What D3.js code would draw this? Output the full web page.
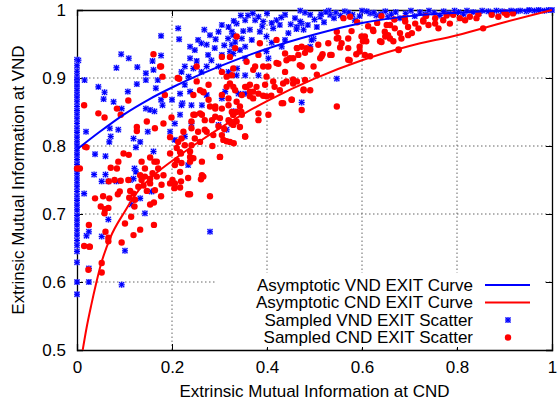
<!DOCTYPE html>
<html>
<head>
<meta charset="utf-8">
<script src="https://cdn.jsdelivr.net/npm/d3@7"></script>
<style>
  body { margin: 0; background: #fff; }
  svg { font-family: "Liberation Sans", Arial, sans-serif; }
  .grid line { stroke: #666; stroke-dasharray: 1.5,2.5; stroke-width: 1; }
  .axis path, .axis line { stroke: #000; }
  .axis text { font-size: 17px; fill: #000; }
</style>
</head>
<body>
<svg id="chart" width="558" height="405"></svg>
<script>
// asymptotic curves
const vndCurveX = [0, 0.05, 0.1, 0.15, 0.2, 0.3, 0.4, 0.5, 0.6, 0.7, 0.8, 0.9, 1]
const vndCurveY = [0.795, 0.822, 0.847, 0.868, 0.886, 0.917, 0.943, 0.964, 0.981, 0.991, 0.996, 0.999, 1.0]
const cndCurveX = [0.012, 0.02, 0.03, 0.04, 0.05, 0.07, 0.1, 0.13, 0.16, 0.2, 0.25, 0.3, 0.35, 0.4, 0.5, 0.6, 0.7, 0.8, 0.9, 1]
const cndCurveY = [0.5, 0.532, 0.566, 0.597, 0.625, 0.665, 0.703, 0.735, 0.756, 0.778, 0.803, 0.826, 0.847, 0.866, 0.899, 0.926, 0.947, 0.963, 0.982, 1.0]

// sampled VND scatter [x, y]
const vndScatter = [
  [0, 0.927], [0, 0.918], [0, 0.91], [0, 0.903], [0, 0.898], [0, 0.893], [0, 0.888], [0, 0.882], [0, 0.876],
  [0, 0.871], [0, 0.865], [0, 0.858], [0, 0.852], [0, 0.846], [0, 0.84], [0, 0.833], [0, 0.826], [0, 0.82],
  [0, 0.813], [0, 0.806], [0, 0.8], [0, 0.793], [0, 0.787], [0, 0.78], [0, 0.773], [0, 0.766], [0, 0.76],
  [0, 0.753], [0, 0.746], [0, 0.74], [0, 0.733], [0, 0.726], [0, 0.72], [0, 0.713], [0, 0.706], [0, 0.698],
  [0, 0.691], [0, 0.684], [0, 0.676], [0, 0.669], [0, 0.661], [0, 0.654], [0, 0.645], [0, 0.629], [0, 0.6],
  [0, 0.582], [0.003, 0.926],
  [0.177, 0.962], [0.213, 0.973], [0.215, 0.957], [0.093, 0.935], [0.109, 0.929], [0.083, 0.915], [0.127, 0.916],
  [0.177, 0.933], [0.159, 0.925], [0.161, 0.912], [0.145, 0.907], [0.145, 0.897], [0.126, 0.891], [0.17, 0.897],
  [0.166, 0.885], [0.045, 0.887], [0.058, 0.879], [0.056, 0.869], [0.077, 0.865], [0.107, 0.88], [0.094, 0.855],
  [0.145, 0.855], [0.154, 0.853], [0.163, 0.851], [0.18, 0.86], [0.177, 0.868], [0.2, 0.868], [0.217, 0.877],
  [0.222, 0.863], [0.217, 0.846], [0.206, 0.833], [0.196, 0.821], [0.206, 0.809], [0.019, 0.821], [0.069, 0.826],
  [0.087, 0.824], [0.071, 0.814], [0.068, 0.806], [0.119, 0.811], [0.133, 0.806], [0.124, 0.798], [0.149, 0.821],
  [0.161, 0.792], [0.038, 0.788], [0.06, 0.785], [0.121, 0.767], [0.124, 0.762], [0.036, 0.758], [0.06, 0.758],
  [0.234, 0.772], [0.227, 0.814], [0.016, 0.897], [0.241, 0.833],
  [0.305, 0.978], [0.319, 0.975], [0.298, 0.968], [0.326, 0.968], [0.28, 0.963], [0.255, 0.956], [0.262, 0.951],
  [0.273, 0.949], [0.238, 0.946], [0.248, 0.941], [0.29, 0.944], [0.276, 0.934], [0.283, 0.926], [0.305, 0.934],
  [0.322, 0.939], [0.326, 0.949], [0.238, 0.929], [0.227, 0.917], [0.245, 0.914], [0.22, 0.909], [0.262, 0.909],
  [0.273, 0.917], [0.298, 0.917], [0.319, 0.909], [0.227, 0.89], [0.238, 0.88], [0.22, 0.86], [0.241, 0.86],
  [0.263, 0.86], [0.273, 0.875], [0.312, 0.88], [0.305, 0.87], [0.298, 0.831], [0.326, 0.833], [0.315, 0.824],
  [0.336, 0.98], [0.354, 0.985], [0.375, 0.985], [0.392, 0.983], [0.42, 0.985], [0.438, 0.993], [0.459, 0.988],
  [0.473, 0.98], [0.491, 0.993], [0.512, 0.99], [0.533, 0.993], [0.564, 0.998], [0.617, 0.995], [0.649, 0.998],
  [0.364, 0.971], [0.385, 0.968], [0.399, 0.961], [0.413, 0.973], [0.427, 0.978], [0.463, 0.975], [0.477, 0.971],
  [0.329, 0.963], [0.347, 0.958], [0.333, 0.953], [0.354, 0.946], [0.368, 0.956], [0.343, 0.941], [0.329, 0.936],
  [0.354, 0.929], [0.403, 0.929], [0.399, 0.939], [0.438, 0.956], [0.431, 0.946], [0.491, 0.946], [0.498, 0.958],
  [0.337, 0.914], [0.354, 0.904], [0.336, 0.904], [0.382, 0.904], [0.547, 0.899], [0.34, 0.877], [0.354, 0.877],
  [0.473, 0.864], [0.33, 0.851], [0.36, 0.992], [0.4, 0.995], [0.45, 0.979], [0.48, 0.996], [0.52, 0.982],
  [0.545, 0.996], [0.58, 0.993], [0.6, 0.999], [0.63, 0.992], [0.585, 0.985], [0.505, 0.975], [0.445, 0.966],
  [0.41, 0.952], [0.37, 0.995], [0.53, 0.999], [0.47, 0.999],
  [0.47, 0.983], [0.462, 0.972], [0.486, 0.978], [0.5, 0.986], [0.514, 0.994], [0.494, 0.956], [0.43, 0.989],
  [0.41, 0.981], [0.39, 0.976], [0.35, 0.969], [0.318, 0.958], [0.31, 0.948], [0.555, 0.992], [0.572, 0.996],
  [0.595, 0.991], [0.61, 0.998], [0.625, 0.996], [0.64, 0.994], [0.541, 0.988], [0.524, 0.997], [0.382, 0.99],
  [0.345, 0.992], [0.33, 0.984], [0.268, 0.971], [0.292, 0.957], [0.252, 0.925], [0.235, 0.902],
  [0.655, 0.99], [0.662, 0.994], [0.671, 0.997], [0.68, 0.988], [0.692, 0.995], [0.703, 0.999], [0.711, 0.991],
  [0.722, 0.997], [0.733, 0.994], [0.741, 0.999], [0.752, 0.996], [0.764, 0.992], [0.772, 0.998], [0.783, 0.995],
  [0.795, 0.999], [0.803, 0.997], [0.814, 0.994], [0.821, 0.999], [0.834, 0.997], [0.846, 0.995], [0.853, 0.999],
  [0.866, 0.998], [0.874, 0.996], [0.883, 0.999], [0.895, 0.998], [0.903, 0.997], [0.914, 0.999], [0.925, 0.998],
  [0.933, 0.999], [0.946, 0.998], [0.952, 1.0], [0.963, 0.999], [0.972, 1.0], [0.984, 0.999], [0.993, 1.0], [1.0, 1.0],
  [0.015, 0.73], [0.052, 0.748], [0.066, 0.748], [0.083, 0.748], [0.112, 0.75], [0.119, 0.752], [0.133, 0.723],
  [0.115, 0.714], [0.143, 0.701], [0.066, 0.692], [0.02, 0.668], [0.025, 0.674], [0.052, 0.667], [0.101, 0.646],
  [0.28, 0.674], [0.025, 0.62], [0.025, 0.6], [0.094, 0.596], [0.157, 0.733]
]

// sampled CND scatter [x, y]
const cndScatter = [
  [0.161, 0.935], [0.177, 0.917], [0.18, 0.902], [0.185, 0.875], [0.212, 0.9], [0.015, 0.86], [0.045, 0.848],
  [0.058, 0.842], [0.084, 0.855], [0.108, 0.867], [0.092, 0.846], [0.126, 0.828], [0.126, 0.822], [0.147, 0.836],
  [0.164, 0.826], [0.182, 0.833], [0.199, 0.842], [0.02, 0.798], [0.098, 0.789], [0.109, 0.787], [0.087, 0.777],
  [0.071, 0.768], [0.084, 0.767], [0.136, 0.777], [0.143, 0.767], [0.154, 0.783], [0.163, 0.777], [0.171, 0.767],
  [0.159, 0.76], [0.182, 0.757], [0.133, 0.757], [0.006, 0.767], [0.21, 0.797], [0.213, 0.806], [0.219, 0.789],
  [0.227, 0.801], [0.238, 0.792], [0.241, 0.801], [0.248, 0.811], [0.255, 0.821], [0.21, 0.779], [0.22, 0.775],
  [0.238, 0.777], [0.217, 0.762], [0.245, 0.782], [0.263, 0.777], [0.266, 0.755], [0.301, 0.784], [0.252, 0.895],
  [0.259, 0.882], [0.277, 0.89], [0.266, 0.879], [0.245, 0.846], [0.263, 0.846], [0.28, 0.858], [0.291, 0.855],
  [0.305, 0.855], [0.319, 0.86], [0.284, 0.838], [0.301, 0.841], [0.326, 0.85], [0.319, 0.838], [0.273, 0.821],
  [0.287, 0.816], [0.308, 0.809], [0.322, 0.806], [0.305, 0.931], [0.322, 0.931], [0.305, 0.909], [0.315, 0.902],
  [0.322, 0.892], [0.315, 0.887], [0.305, 0.875], [0.319, 0.87],
  [0.067, 0.748], [0.079, 0.75], [0.092, 0.749], [0.108, 0.75], [0.136, 0.75], [0.143, 0.755], [0.154, 0.752],
  [0.168, 0.755], [0.038, 0.723], [0.055, 0.726], [0.068, 0.723], [0.086, 0.729], [0.09, 0.733], [0.05, 0.711],
  [0.059, 0.707], [0.066, 0.709], [0.058, 0.701], [0.112, 0.734], [0.119, 0.73], [0.11, 0.724], [0.122, 0.721],
  [0.121, 0.711], [0.114, 0.696], [0.129, 0.74], [0.14, 0.742], [0.154, 0.745], [0.147, 0.734], [0.164, 0.735],
  [0.177, 0.726], [0.154, 0.714], [0.162, 0.717], [0.162, 0.684], [0.133, 0.677], [0.119, 0.669], [0.101, 0.686],
  [0.06, 0.674], [0.066, 0.665], [0.066, 0.66], [0.094, 0.658], [0.015, 0.653], [0.026, 0.652], [0.025, 0.684],
  [0.052, 0.614], [0.024, 0.618], [0.201, 0.75], [0.206, 0.745], [0.219, 0.748], [0.234, 0.753], [0.196, 0.745],
  [0.205, 0.738], [0.217, 0.739], [0.234, 0.729], [0.238, 0.729], [0.261, 0.751], [0.28, 0.726], [0.178, 0.743],
  [0, 0.767], [0.017, 0.799], [0.027, 0.652], [0.052, 0.628],
  [0.336, 0.961], [0.333, 0.944], [0.329, 0.914], [0.326, 0.904], [0.357, 0.924], [0.385, 0.951], [0.382, 0.934],
  [0.392, 0.917], [0.375, 0.917], [0.371, 0.912], [0.399, 0.902], [0.42, 0.956], [0.438, 0.936], [0.42, 0.922],
  [0.441, 0.926], [0.438, 0.909], [0.441, 0.895], [0.463, 0.944], [0.473, 0.946], [0.483, 0.944], [0.466, 0.934],
  [0.448, 0.929], [0.469, 0.919], [0.48, 0.897], [0.498, 0.917], [0.508, 0.949], [0.512, 0.929], [0.517, 0.935],
  [0.533, 0.934], [0.529, 0.951], [0.547, 0.968], [0.547, 0.958], [0.557, 0.951], [0.571, 0.958], [0.554, 0.945],
  [0.571, 0.944], [0.574, 0.926], [0.588, 0.935], [0.606, 0.934], [0.595, 0.946], [0.606, 0.961], [0.609, 0.954],
  [0.623, 0.971], [0.641, 0.953], [0.648, 0.968], [0.652, 0.978], [0.659, 0.958], [0.561, 0.988], [0.575, 0.99],
  [0.333, 0.882], [0.354, 0.887], [0.364, 0.89], [0.371, 0.88], [0.382, 0.877], [0.392, 0.874], [0.409, 0.874],
  [0.416, 0.887], [0.427, 0.882], [0.434, 0.892], [0.455, 0.892], [0.463, 0.895], [0.477, 0.882], [0.491, 0.882],
  [0.452, 0.868], [0.434, 0.863], [0.473, 0.853], [0.547, 0.858], [0.371, 0.87], [0.343, 0.858], [0.336, 0.85],
  [0.346, 0.85], [0.329, 0.846], [0.322, 0.836], [0.336, 0.836], [0.329, 0.831], [0.382, 0.848], [0.403, 0.846],
  [0.382, 0.838], [0.33, 0.804], [0.354, 0.814],
  [0.659, 0.978], [0.655, 0.963], [0.669, 0.973], [0.68, 0.966], [0.683, 0.958], [0.677, 0.941], [0.697, 0.963],
  [0.697, 0.975], [0.712, 0.98], [0.719, 0.973], [0.729, 0.985], [0.74, 0.978], [0.754, 0.98], [0.761, 0.973],
  [0.771, 0.985], [0.785, 0.98], [0.792, 0.993], [0.806, 0.988], [0.817, 0.985], [0.827, 0.99], [0.841, 0.988],
  [0.855, 0.973], [0.873, 0.993], [0.887, 0.99], [0.905, 0.993], [0.918, 0.995], [0.754, 0.988], [0.69, 0.988],
  [0.175, 0.917], [0.215, 0.899], [0.252, 0.917], [0.403, 0.917], [0.424, 0.921], [0.266, 0.88], [0.245, 0.875],
  [0.329, 0.887], [0.357, 0.887], [0.364, 0.88], [0.378, 0.887], [0.396, 0.89], [0.413, 0.895], [0.431, 0.863],
  [0.347, 0.875], [0.364, 0.873], [0.399, 0.873], [0.336, 0.865], [0.277, 0.868], [0.291, 0.858], [0.259, 0.848],
  [0.248, 0.846], [0.241, 0.836], [0.269, 0.838], [0.291, 0.843], [0.329, 0.846], [0.347, 0.846], [0.325, 0.833],
  [0.224, 0.821], [0.241, 0.826], [0.22, 0.811], [0.269, 0.824], [0.298, 0.829], [0.305, 0.816], [0.196, 0.813],
  [0.259, 0.806], [0.238, 0.784], [0.315, 0.807], [0.354, 0.814], [0.168, 0.777], [0.196, 0.789], [0.217, 0.791],
  [0.206, 0.772], [0.263, 0.757], [0.301, 0.784], [0.285, 0.8], [0.31, 0.825], [0.343, 0.828],
  [0.455, 0.929], [0.463, 0.944], [0.48, 0.937], [0.473, 0.917], [0.491, 0.942], [0.515, 0.932], [0.536, 0.934],
  [0.55, 0.959], [0.578, 0.969], [0.571, 0.927], [0.595, 0.939], [0.602, 0.954], [0.599, 0.961], [0.613, 0.976],
  [0.617, 0.932], [0.624, 0.969], [0.638, 0.954], [0.649, 0.961], [0.666, 0.954], [0.677, 0.942], [0.691, 0.983],
  [0.705, 0.966], [0.729, 0.983], [0.641, 0.991], [0.455, 0.898], [0.505, 0.905], [0.477, 0.883], [0.452, 0.868],
  [0.59, 0.982], [0.632, 0.981], [0.668, 0.986], [0.735, 0.991], [0.778, 0.992], [0.845, 0.994], [0.9, 0.996]
]

const xTicks = [0, 0.2, 0.4, 0.6, 0.8, 1]
const yTicks = [0.5, 0.6, 0.7, 0.8, 0.9, 1]
const legendLabels = ['Asymptotic VND EXIT Curve', 'Asymptotic CND EXIT Curve', 'Sampled VND EXIT Scatter', 'Sampled CND EXIT Scatter']

const svg = d3.select('#chart')
const margin = {left: 77, right: 6, top: 10, bottom: 55}
const W = 558, H = 405
const x = d3.scaleLinear().domain([0, 1]).range([margin.left, W - margin.right])
const y = d3.scaleLinear().domain([0.5, 1]).range([H - margin.bottom, margin.top])
const fmt = d => d3.format('~g')(d)
const blue = '#0000ff', red = '#ff0000'

// grid
const grid = svg.append('g').attr('class', 'grid')
grid.selectAll('.gx').data(xTicks.slice(1, -1)).enter().append('line')
  .attr('x1', d => x(d)).attr('x2', d => x(d)).attr('y1', y(0.5)).attr('y2', y(1))
grid.selectAll('.gy').data(yTicks.slice(1, -1)).enter().append('line')
  .attr('y1', d => y(d)).attr('y2', d => y(d)).attr('x1', x(0)).attr('x2', x(1))

// axes, ticks pointing inward like gnuplot
svg.append('g').attr('class', 'axis').attr('transform', `translate(0,${y(0.5)})`)
  .call(d3.axisBottom(x).tickValues(xTicks).tickSize(-6).tickPadding(11).tickFormat(fmt))
svg.append('g').attr('class', 'axis').attr('transform', `translate(${x(0)},0)`)
  .call(d3.axisLeft(y).tickValues(yTicks).tickSize(-6).tickPadding(11).tickFormat(fmt))
svg.append('g').attr('class', 'axis').attr('transform', `translate(0,${y(1)})`)
  .call(d3.axisTop(x).tickValues(xTicks).tickSize(-6).tickFormat(''))
svg.append('g').attr('class', 'axis').attr('transform', `translate(${x(1)},0)`)
  .call(d3.axisRight(y).tickValues(yTicks).tickSize(-6).tickFormat(''))
svg.selectAll('.axis path').attr('stroke-width', 1.3)

// legend box (opaque, drawn over the grid)
const legend = svg.append('g')
legend.append('rect').attr('x', 215).attr('y', 273).attr('width', 328).attr('height', 74).attr('fill', '#fff')

function asterisk(g, color) {
  g.append('rect').attr('x', -3).attr('y', -3).attr('width', 6).attr('height', 6)
    .attr('fill', '#8c8cff').attr('opacity', 0.55)
  g.append('path').attr('d', 'M-3,0H3M0,-3V3M-2.5,-2.5L2.5,2.5M-2.5,2.5L2.5,-2.5')
    .attr('stroke', color).attr('stroke-width', 1.1).attr('fill', 'none')
}

// scatter
const sv = svg.append('g')
vndScatter.forEach(d => {
  asterisk(sv.append('g').attr('transform', `translate(${x(d[0])},${y(d[1])})`), blue)
})
svg.append('g').selectAll('circle').data(cndScatter).enter().append('circle')
  .attr('cx', d => x(d[0])).attr('cy', d => y(d[1])).attr('r', 3.2).attr('fill', red)

// curves
const line = d3.line().x(d => x(d[0])).y(d => y(d[1])).curve(d3.curveMonotoneX)
svg.append('path').datum(vndCurveX.map((v, i) => [v, vndCurveY[i]]))
  .attr('d', line).attr('fill', 'none').attr('stroke', blue).attr('stroke-width', 2)
svg.append('path').datum(cndCurveX.map((v, i) => [v, cndCurveY[i]]))
  .attr('d', line).attr('fill', 'none').attr('stroke', red).attr('stroke-width', 2)

// legend entries
const rowY = [285, 302.5, 320, 337.5]
legendLabels.forEach((t, i) => {
  legend.append('text').attr('x', 473).attr('y', rowY[i]).attr('dy', '0.35em')
    .attr('text-anchor', 'end').attr('font-size', 17).text(t)
})
legend.append('line').attr('x1', 485).attr('x2', 530).attr('y1', rowY[0]).attr('y2', rowY[0])
  .attr('stroke', blue).attr('stroke-width', 2)
legend.append('line').attr('x1', 485).attr('x2', 530).attr('y1', rowY[1]).attr('y2', rowY[1])
  .attr('stroke', red).attr('stroke-width', 2)
asterisk(legend.append('g').attr('transform', `translate(508,${rowY[2]})`), blue)
legend.append('circle').attr('cx', 508).attr('cy', rowY[3]).attr('r', 3.2).attr('fill', red)

// axis titles
svg.append('text').attr('x', (x(0) + x(1)) / 2).attr('y', 397).attr('text-anchor', 'middle')
  .attr('font-size', 17).text('Extrinsic Mutual Information at CND')
svg.append('text').attr('transform', `translate(24,${(y(0.5) + y(1)) / 2}) rotate(-90)`)
  .attr('text-anchor', 'middle').attr('font-size', 17).text('Extrinsic Mutual Information at VND')
</script>
</body>
</html>
